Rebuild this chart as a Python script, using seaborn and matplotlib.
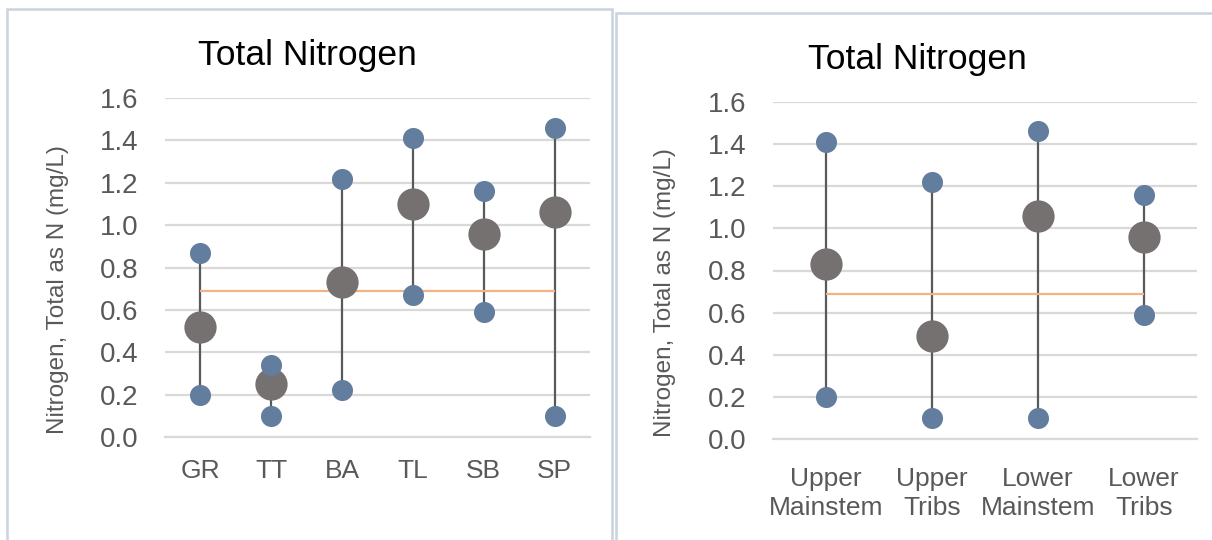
import matplotlib
matplotlib.use("Agg")
import matplotlib.pyplot as plt
import seaborn as sns
import pandas as pd
from matplotlib.patches import Rectangle
from matplotlib.ticker import FixedLocator

# ---------------- data ----------------
sites = ["GR", "TT", "BA", "TL", "SB", "SP"]
sites_max = [0.87, 0.34, 1.22, 1.41, 1.16, 1.46]
sites_mean = [0.52, 0.25, 0.73, 1.10, 0.96, 1.06]
sites_min = [0.20, 0.10, 0.22, 0.67, 0.59, 0.10]

regions = ["Upper\nMainstem", "Upper\nTribs", "Lower\nMainstem", "Lower\nTribs"]
regions_max = [1.41, 1.22, 1.46, 1.16]
regions_mean = [0.83, 0.49, 1.06, 0.96]
regions_min = [0.20, 0.10, 0.10, 0.59]

criterion = 0.69
title_text = "Total Nitrogen"
ylabel_text = "Nitrogen, Total as N (mg/L)"
yticks = [0.0, 0.2, 0.4, 0.6, 0.8, 1.0, 1.2, 1.4, 1.6]

# ---------------- style ----------------
sns.set_theme(style="white")
plt.rcParams["font.family"] = ["Liberation Sans", "DejaVu Sans"]

BLUE = "#637d9e"
GREY = "#767171"
LINE = "#595959"
ORANGE = "#f4b183"
GRID = "#d9d9d9"
TXT = "#595959"

W, H = 1212, 540
fig = plt.figure(figsize=(W / 100, H / 100), dpi=100)


def px_axes(x0, x1, ytop, ybot):
    return fig.add_axes([x0 / W, 1 - ybot / H, (x1 - x0) / W, (ybot - ytop) / H])


def draw_panel(ax, cats, vmax, vmean, vmin, title_x, ylab_x, xpad):
    n = len(cats)
    df = pd.DataFrame({"cat": cats, "max": vmax, "mean": vmean, "min": vmin})
    pos = list(range(n))
    ax.set_axisbelow(True)
    ax.yaxis.grid(True, color=GRID, linewidth=1.6)
    ax.vlines(pos, df["min"], df["max"], color=LINE, linewidth=1.6, zorder=2)
    ax.hlines(criterion, pos[0], pos[-1], color=ORANGE, linewidth=1.6, zorder=3)
    sns.scatterplot(data=df, x="cat", y="mean", ax=ax, color=GREY, s=540,
                    linewidth=0, zorder=4, legend=False)
    sns.scatterplot(data=df, x="cat", y="max", ax=ax, color=BLUE, s=230,
                    linewidth=0, zorder=5, legend=False)
    sns.scatterplot(data=df, x="cat", y="min", ax=ax, color=BLUE, s=230,
                    linewidth=0, zorder=5, legend=False)

    ax.set_xlim(-0.5, n - 0.5)
    ax.set_ylim(0, 1.6)
    ax.set_yticks(yticks)
    ax.set_yticklabels([f"{v:.1f}" for v in yticks])
    ax.set_xticks(pos)
    ax.set_xticklabels(cats, linespacing=1.25)
    ax.xaxis.set_minor_locator(FixedLocator([p - 0.5 for p in pos] + [n - 0.5]))

    for s in ["top", "right", "left"]:
        ax.spines[s].set_visible(False)
    ax.spines["bottom"].set_color(GRID)
    ax.spines["bottom"].set_linewidth(1.6)

    ax.tick_params(axis="y", length=0, pad=19, labelsize=20, labelcolor=TXT)
    ax.tick_params(axis="x", which="major", length=0, pad=xpad, labelsize=19,
                   labelcolor=TXT)
    ax.tick_params(axis="x", which="minor", direction="inout", length=13,
                   width=1.6, color=GRID)

    ax.set_xlabel("")
    ax.set_ylabel(ylabel_text, fontsize=17.5, color=TXT)
    ax.yaxis.set_label_coords(ylab_x, 0.435)
    ax.set_title(title_text, fontsize=25.5, color="#000000", pad=24, x=title_x)


# panel frames
fig.patches.append(Rectangle((7 / W, -0.1), (612 - 7) / W, 1.1 - 9 / H,
                             transform=fig.transFigure, fill=False,
                             edgecolor="#cbd3de", linewidth=1.8, zorder=0))
fig.patches.append(Rectangle((616 / W, -0.1), 0.5, 1.1 - 13 / H,
                             transform=fig.transFigure, fill=False,
                             edgecolor="#cbd3de", linewidth=1.8, zorder=0))

ax1 = px_axes(165, 590, 98, 437)
draw_panel(ax1, sites, sites_max, sites_mean, sites_min, 0.334, -0.226, 16)

ax2 = px_axes(773, 1197, 102, 439)
draw_panel(ax2, regions, regions_max, regions_mean, regions_min, 0.34, -0.229, 20)

fig.savefig("out.png", dpi=100)
